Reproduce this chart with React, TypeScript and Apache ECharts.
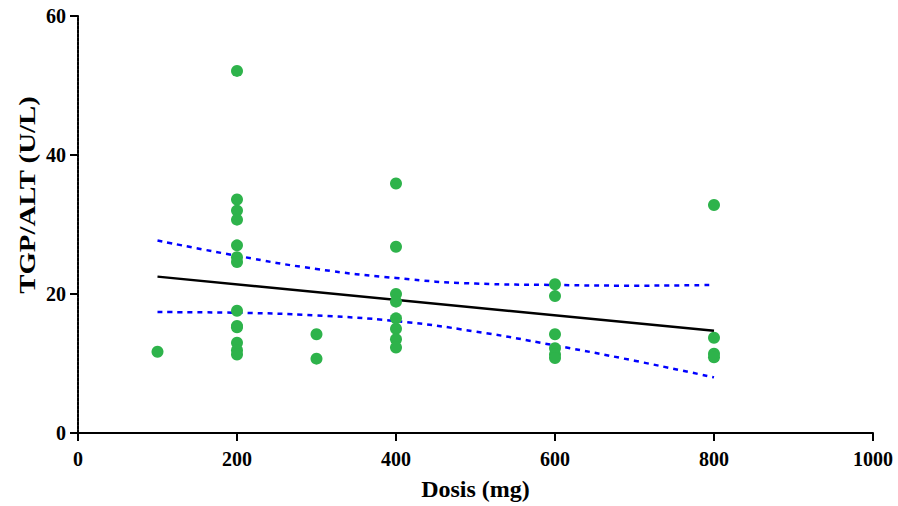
import React, { useEffect, useRef } from "react";
import * as echarts from "echarts";

// Dose groups (mg) and measured TGP/ALT values (U/L)
const dose100 = [11.7];
const dose200 = [52.1, 33.6, 32.0, 30.7, 27.0, 25.3, 24.6, 17.6, 15.4, 15.2, 13.0, 11.9, 11.3];
const dose300 = [14.2, 10.7];
const dose400 = [35.9, 26.8, 20.0, 18.9, 16.5, 15.0, 13.5, 12.3];
const dose600 = [21.4, 19.7, 14.2, 12.2, 11.3, 10.8];
const dose800 = [32.8, 13.7, 11.4, 10.9];

const groups: [number, number[]][] = [
  [100, dose100],
  [200, dose200],
  [300, dose300],
  [400, dose400],
  [600, dose600],
  [800, dose800],
];

// Regression line and 95% confidence band
const fitX = [100, 800];
const fitY = [22.5, 14.7];
const bandX = [100, 200, 300, 400, 500, 600, 700, 800];
const upperY = [27.7, 25.5, 23.6, 22.3, 21.5, 21.3, 21.2, 21.3];
const lowerY = [17.4, 17.3, 16.9, 16.1, 14.6, 12.6, 10.4, 8.0];

const xTicks = [0, 200, 400, 600, 800, 1000];
const yTicks = [0, 20, 40, 60];

const xTitle = "Dosis (mg)";
const yTitle = "TGP/ALT (U/L)";

const FONT = "'Liberation Serif', 'Times New Roman', serif";

export default function App() {
  const ref = useRef<HTMLDivElement>(null);

  useEffect(() => {
    if (!ref.current) return;
    const chart = echarts.init(ref.current, undefined, { renderer: "svg" });

    const scatterData: number[][] = [];
    groups.forEach(([x, vals]) => vals.forEach((v) => scatterData.push([x, v])));

    chart.setOption({
      animation: false,
      backgroundColor: "#ffffff",
      grid: { left: 78, right: 25, top: 16, bottom: 70, containLabel: false },
      graphic: [
        {
          type: "text",
          x: 27,
          y: 195,
          rotation: Math.PI / 2,
          scaleX: 1.2,
          style: {
            text: yTitle,
            fontFamily: FONT,
            fontWeight: "bold",
            fontSize: 24,
            fill: "#000",
            align: "center",
            verticalAlign: "middle",
          },
        },
      ],
      xAxis: {
        type: "value",
        min: xTicks[0],
        max: xTicks[xTicks.length - 1],
        interval: 200,
        name: xTitle,
        nameLocation: "middle",
        nameGap: 44,
        nameTextStyle: { fontFamily: FONT, fontWeight: "bold", fontSize: 24, color: "#000" },
        axisLine: { show: true, onZero: false, lineStyle: { color: "#000", width: 2 } },
        axisTick: { show: true, length: 8, lineStyle: { color: "#000", width: 2 } },
        axisLabel: {
          fontFamily: FONT,
          fontWeight: "bold",
          fontSize: 20,
          color: "#000",
          margin: 16,
          formatter: (v: number) => String(v),
        },
        splitLine: { show: false },
      },
      yAxis: {
        type: "value",
        min: yTicks[0],
        max: yTicks[yTicks.length - 1],
        interval: 20,
        axisLine: { show: true, onZero: false, lineStyle: { color: "#000", width: 2, type: [3, 1] } },
        axisTick: { show: true, length: 8, lineStyle: { color: "#000", width: 2 } },
        axisLabel: {
          fontFamily: FONT,
          fontWeight: "bold",
          fontSize: 20,
          color: "#000",
          margin: 12,
          formatter: (v: number) => String(v),
        },
        splitLine: { show: false },
      },
      series: [
        {
          type: "line",
          data: bandX.map((x, i) => [x, upperY[i]]),
          smooth: true,
          showSymbol: false,
          symbol: "none",
          lineStyle: { color: "#0000ff", width: 2.5, type: [5, 5] },
          z: 2,
        },
        {
          type: "line",
          data: bandX.map((x, i) => [x, lowerY[i]]),
          smooth: true,
          showSymbol: false,
          symbol: "none",
          lineStyle: { color: "#0000ff", width: 2.5, type: [5, 5] },
          z: 2,
        },
        {
          type: "line",
          data: fitX.map((x, i) => [x, fitY[i]]),
          showSymbol: false,
          symbol: "none",
          lineStyle: { color: "#000", width: 2.5 },
          z: 2,
        },
        {
          type: "scatter",
          data: scatterData,
          symbol: "circle",
          symbolSize: 12,
          itemStyle: { color: "#2eb34b", opacity: 1 },
          z: 3,
        },
      ],
    });

    return () => chart.dispose();
  }, []);

  return (
    <div
      ref={ref}
      style={{ position: "absolute", left: 0, top: 0, width: 898, height: 506 }}
    />
  );
}
